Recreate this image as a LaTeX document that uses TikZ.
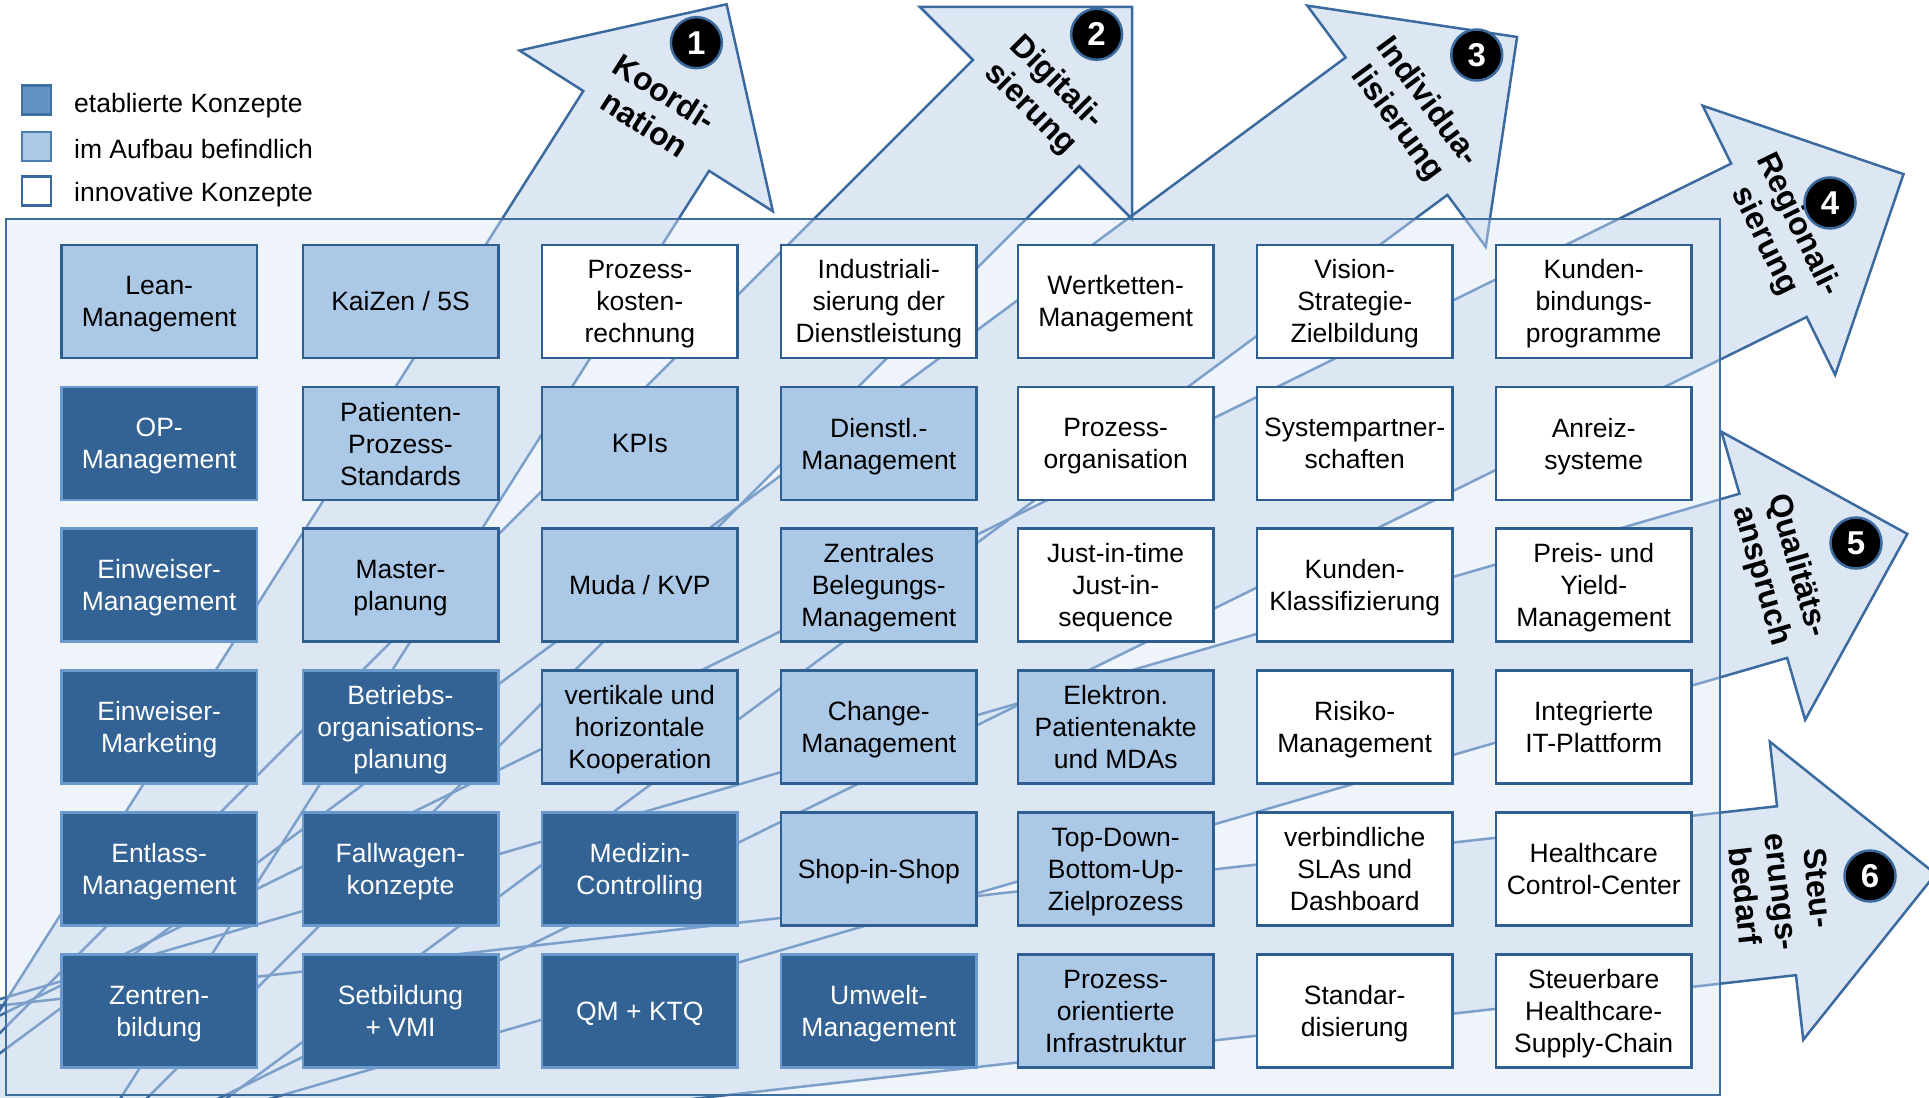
\documentclass[tikz,border=0pt]{standalone}
\usepackage{fontspec}
\setmainfont{Liberation Sans}

\definecolor{rectfill}{RGB}{239,244,250}
\definecolor{arrowfill}{RGB}{220,231,243}
\definecolor{arrowline}{RGB}{59,106,158}
\definecolor{arrowlineIn}{RGB}{124,160,202}
\definecolor{rectline}{RGB}{63,110,160}
\definecolor{darkfill}{RGB}{51,99,148}
\definecolor{darkborder}{RGB}{106,153,206}
\definecolor{lightfill}{RGB}{171,200,230}
\definecolor{boxborder}{RGB}{47,95,145}
\definecolor{legdark}{RGB}{98,146,198}
\definecolor{legdarkline}{RGB}{63,111,163}
\definecolor{leglightline}{RGB}{76,124,176}

\newcommand\bxfont{\fontsize{26.5}{32}\selectfont}
\newcommand\lblfont{\bfseries\fontsize{32}{37}\selectfont}

% one block arrow: #1 path options, #2 centre of the head base,
% #3 direction angle, #4 half shaft width, #5 shaft length
\newcommand\trendarrow[5]{%
  \begin{scope}[shift={(#2)},rotate=#3]
    \path[#1] (-#5,-#4) -- (0,-#4) -- (0,-150) -- (150,0) -- (0,150)
      -- (0,#4) -- (-#5,#4) -- cycle;
  \end{scope}}

\newcommand\allarrows[1]{%
  \trendarrow{#1}{646.2,130.9}{57.6}{74.5}{1310}%
  \trendarrow{#1}{1026,113}{45}{75}{1570}%
  \trendarrow{#1}{1396.5,126.2}{36.5}{85.5}{1850}%
  \trendarrow{#1}{1768.9,240.3}{26.2}{85.5}{2116}%
  \trendarrow{#1}{1763.3,575.8}{16.2}{85.5}{1990}%
  \trendarrow{#1}{1786.5,890.7}{6.4}{85}{1950}}

\tikzset{
  cbox/.style={draw, line width=2.5pt, minimum width=195.5pt, minimum height=113pt,
    align=center, inner sep=0pt, text depth=0pt, font=\bxfont},
  estab/.style={cbox, fill=darkfill, draw=darkborder, text=white},
  build/.style={cbox, fill=lightfill, draw=boxborder, text=black},
  innov/.style={cbox, fill=white, draw=boxborder, text=black},
  legsq/.style={line width=2.5pt, minimum size=29pt, inner sep=0pt},
  legtext/.style={anchor=base west, font=\bxfont, inner sep=0pt},
  alabel/.style={font=\lblfont, align=center, inner sep=0pt},
  num/.style={circle, fill=black, draw=arrowline, line width=2.5pt, minimum size=51pt,
    inner sep=0pt, text=white, font=\bfseries\fontsize{33}{33}\selectfont}
}

\begin{document}
\begin{tikzpicture}[x=1pt,y=-1pt,line join=miter]
\useasboundingbox (0,0) rectangle (1929,1097);
\clip (0,0) rectangle (1929,1097);

% trend arrows outside the frame
\allarrows{fill=arrowfill}
\allarrows{draw=arrowline, line width=2.5pt}

% frame area: lighter arrow outlines inside
\begin{scope}
  \clip (6,219) rectangle (1720,1095);
  \fill[rectfill] (6,219) rectangle (1720,1095);
  \allarrows{fill=arrowfill}
  \allarrows{draw=arrowlineIn, line width=2.5pt}
\end{scope}
\draw[rectline, line width=2.5pt] (6,219) rectangle (1720,1095);

% concept grid
% row 1
\node[build] (c11) at (159.2,301.3) {Lean-\\Management};
\node[build] (c12) at (400.5,301.3) {KaiZen / 5S};
\node[innov] (c13) at (639.8,301.3) {Prozess-\\kosten-\\rechnung};
\node[innov] (c14) at (878.8,301.3) {Industriali-\\sierung der\\Dienstleistung};
\node[innov] (c15) at (1115.7,301.3) {Wertketten-\\Management};
\node[innov] (c16) at (1354.7,301.3) {Vision-\\Strategie-\\Zielbildung};
\node[innov] (c17) at (1593.7,301.3) {Kunden-\\bindungs-\\programme};
% row 2
\node[estab] (c21) at (159.2,443.5) {OP-\\Management};
\node[build] (c22) at (400.5,443.5) {Patienten-\\Prozess-\\Standards};
\node[build] (c23) at (639.8,443.5) {KPIs};
\node[build] (c24) at (878.8,443.5) {Dienstl.-\\Management};
\node[innov] (c25) at (1115.7,443.5) {Prozess-\\organisation};
\node[innov] (c26) at (1354.7,443.5) {Systempartner-\\schaften};
\node[innov] (c27) at (1593.7,443.5) {Anreiz-\\systeme};
% row 3
\node[estab] (c31) at (159.2,585.2) {Einweiser-\\Management};
\node[build] (c32) at (400.5,585.2) {Master-\\planung};
\node[build] (c33) at (639.8,585.2) {Muda / KVP};
\node[build] (c34) at (878.8,585.2) {Zentrales\\Belegungs-\\Management};
\node[innov] (c35) at (1115.7,585.2) {Just-in-time\\Just-in-\\sequence};
\node[innov] (c36) at (1354.7,585.2) {Kunden-\\Klassifizierung};
\node[innov] (c37) at (1593.7,585.2) {Preis- und\\Yield-\\Management};
% row 4
\node[estab] (c41) at (159.2,727.2) {Einweiser-\\Marketing};
\node[estab] (c42) at (400.5,727.2) {Betriebs-\\organisations-\\planung};
\node[build] (c43) at (639.8,727.2) {vertikale und\\horizontale\\Kooperation};
\node[build] (c44) at (878.8,727.2) {Change-\\Management};
\node[build] (c45) at (1115.7,727.2) {Elektron.\\Patientenakte\\und MDAs};
\node[innov] (c46) at (1354.7,727.2) {Risiko-\\Management};
\node[innov] (c47) at (1593.7,727.2) {Integrierte\\IT-Plattform};
% row 5
\node[estab] (c51) at (159.2,869.2) {Entlass-\\Management};
\node[estab] (c52) at (400.5,869.2) {Fallwagen-\\konzepte};
\node[estab] (c53) at (639.8,869.2) {Medizin-\\Controlling};
\node[build] (c54) at (878.8,869.2) {Shop-in-Shop};
\node[build] (c55) at (1115.7,869.2) {Top-Down-\\Bottom-Up-\\Zielprozess};
\node[innov] (c56) at (1354.7,869.2) {verbindliche\\SLAs und\\Dashboard};
\node[innov] (c57) at (1593.7,869.2) {Healthcare\\Control-Center};
% row 6
\node[estab] (c61) at (159.2,1011.2) {Zentren-\\bildung};
\node[estab] (c62) at (400.5,1011.2) {Setbildung\\+ VMI};
\node[estab] (c63) at (639.8,1011.2) {QM + KTQ};
\node[estab] (c64) at (878.8,1011.2) {Umwelt-\\Management};
\node[build] (c65) at (1115.7,1011.2) {Prozess-\\orientierte\\Infrastruktur};
\node[innov] (c66) at (1354.7,1011.2) {Standar-\\disierung};
\node[innov] (c67) at (1593.7,1011.2) {Steuerbare\\Healthcare-\\Supply-Chain};

% legend
\node[legsq, fill=legdark, draw=legdarkline] (lg1) at (36.5,100) {};
\node[legsq, fill=lightfill, draw=leglightline] (lg2) at (36.5,146.5) {};
\node[legsq, fill=white, draw=arrowline] (lg3) at (36.5,191) {};
\node[legtext] (lt1) at (74,112.3) {etablierte Konzepte};
\node[legtext] (lt2) at (74,158.3) {im Aufbau befindlich};
\node[legtext] (lt3) at (74,201.7) {innovative Konzepte};

% arrow labels
\node[alabel, rotate=-32.4] (a1) at (655,108) {Koordi-\\nation};
\node[alabel, rotate=-45] (a2) at (1043,96) {Digitali-\\sierung};
\node[alabel, rotate=-53.5] (a3) at (1412,113) {Individua-\\lisierung};
\node[alabel, rotate=-63.8] (a4) at (1781,233) {Regionali-\\sierung};
\node[alabel, rotate=-73.8] (a5) at (1779,571) {Qualitäts-\\anspruch};
\node[alabel, rotate=-83.6] (a6) at (1782,892) {Steu-\\erungs-\\bedarf};

% numbered markers
\node[num] (n1) at (696.4,42.7) {1};
\node[num] (n2) at (1096.6,34.3) {2};
\node[num] (n3) at (1476.7,55) {3};
\node[num] (n4) at (1830,203) {4};
\node[num] (n5) at (1856,543) {5};
\node[num] (n6) at (1870,876) {6};
\end{tikzpicture}
\end{document}
